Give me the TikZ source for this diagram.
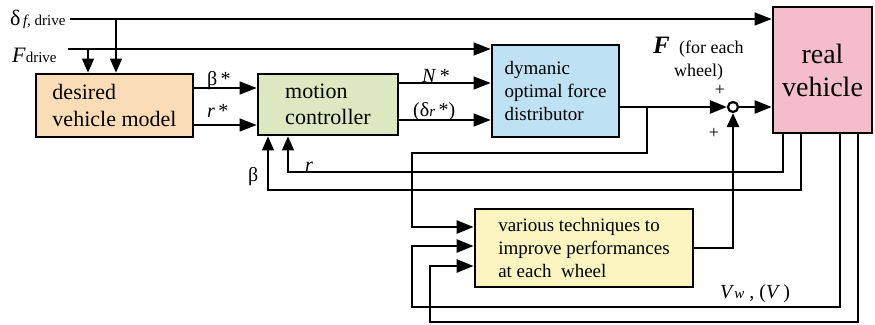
\documentclass[tikz,border=0pt]{standalone}
\usepackage{fontspec}
\setmainfont{Liberation Serif}
\usetikzlibrary{arrows.meta}
\definecolor{cdes}{RGB}{250,221,182}
\definecolor{cmot}{RGB}{221,232,192}
\definecolor{cdist}{RGB}{190,225,243}
\definecolor{creal}{RGB}{245,189,203}
\definecolor{ctech}{RGB}{250,245,192}
\newcommand\fszA{\fontsize{22}{26.4}\selectfont}
\newcommand\fszB{\fontsize{20}{24}\selectfont}
\newcommand\fszC{\fontsize{15}{18}\selectfont}
\newcommand\fszD{\fontsize{19}{22.6}\selectfont}
\newcommand\fszR{\fontsize{28}{33}\selectfont}
\newcommand\fszS{\fontsize{18}{23}\selectfont}
\begin{document}
\begin{tikzpicture}[x=1pt,y=-1pt,
  box/.style={draw, line width=2.8pt, inner sep=0pt, align=left},
  thin/.style={line width=1.2pt},
  thk/.style={line width=2.6pt},
  tip/.style={-{Triangle[length=17pt,width=13pt]}},
  tipv/.style={-{Triangle[length=14pt,width=12pt]}},
  lbl/.style={inner sep=0pt, anchor=base west}]
\useasboundingbox (0,0) rectangle (875,324);

% boxes
\node[box, fill=cdes, minimum width=157pt, minimum height=63pt, font=\fszA] (des) at (114.5,105.5) {desired\\vehicle model};
\node[box, fill=cmot, minimum width=140pt, minimum height=61pt, font=\fszA] (mot) at (328,104.5) {motion\\controller};
\node[box, fill=cdist, minimum width=127pt, minimum height=92pt, font=\fszD] (dist) at (555.5,91) {dymanic\\optimal force\\distributor};
\node[box, fill=creal, minimum width=99pt, minimum height=126pt, align=center, font=\fszR] (real) at (822.5,70) {real\\vehicle};
\node[box, fill=ctech, minimum width=218pt, minimum height=78pt, font=\fszD] (tech) at (584,248) {various techniques to\\improve performances\\at each\ \ wheel};
\node[draw, circle, line width=2.2pt, minimum size=10pt, inner sep=0pt, fill=white] (sum) at (733,107) {};

% labels
\node[lbl] (ldelta) at (10,25) {\fszA δ\fszC\,\textit{f,} drive};
\node[lbl] (lfd) at (12,62) {\fszA\textit{F}\fszC drive};
\node[lbl] (lbs) at (207,85) {\fszB β\,*};
\node[lbl] (lrs) at (207,117) {\fszB\textit{r}\,*};
\node[lbl] (lns) at (422,82) {\fszB\textit{N}\,*};
\node[lbl] (lds) at (413,116) {\fszB(δ{\fszC\textit{r}}\,*)};
\node[lbl] (lr) at (305,171) {\fszB\textit{r}};
\node[lbl] (lb) at (248,181) {\fszB β};
\node[lbl] (lF) at (653,53) {\fontsize{25}{30}\selectfont\bfseries\itshape F};
\node[lbl] (lfe) at (679,53) {\fszS (for each};
\node[lbl] (lwh) at (674,76) {\fszS wheel)};
\node[inner sep=0pt, font=\fszS] (p1) at (720,90) {+};
\node[inner sep=0pt, font=\fszS] (p2) at (714,133) {+};
\node[lbl] (lv) at (720,298) {\fszB\textit{V}{\fszC\textit{w}}\ , (\textit{V}\,)};

% inputs
\coordinate (dS) at (70,19);
\coordinate (dB) at (116,19);
\coordinate (fS) at (68,49);
\coordinate (fB) at (88,49);
\draw[thin,tip] (dS) -- (dS -| real.west);
\draw[thin,tipv] (dB) -- (dB |- des.north);
\draw[thin,tip] (fS) -- (fS -| dist.west);
\draw[thin,tipv] (fB) -- (fB |- des.north);

% forward signals
\coordinate (yb) at (0,88);
\coordinate (yr) at (0,125);
\coordinate (yn) at (0,83);
\coordinate (yd) at (0,120);
\draw[thin,tip] (des.east |- yb) -- (mot.west |- yb);
\draw[thin,tip] (des.east |- yr) -- (mot.west |- yr);
\draw[thin,tip] (mot.east |- yn) -- (dist.west |- yn);
\draw[thin,tip] (mot.east |- yd) -- (dist.west |- yd);

% force output
\coordinate (br) at (647,107);
\coordinate (c1) at (412,153);
\coordinate (yt1) at (0,227);
\draw[thk,tip] (dist.east |- sum) -- (sum.west);
\draw[thk,tip] (sum.east) -- (sum.east -| real.west);
\draw[thk,tip] (br) |- (c1) |- (tech.west |- yt1);
\draw[thk,tipv] (tech.east) -| (sum.south);

% feedback thin
\coordinate (f1) at (783,172);
\coordinate (m1) at (288,172);
\coordinate (f2) at (801,190);
\coordinate (m2) at (268,190);
\draw[thin,tipv] (real.south -| f1) -- (f1) -- (m1) -- (m1 |- mot.south);
\draw[thin,tipv] (real.south -| f2) -- (f2) -- (m2) -- (m2 |- mot.south);

% feedback thick
\coordinate (g1) at (840,307);
\coordinate (h1) at (412,307);
\coordinate (yt2) at (0,246);
\coordinate (g2) at (858,322);
\coordinate (h2) at (430,322);
\coordinate (yt3) at (0,266);
\draw[thk,tip] (real.south -| g1) -- (g1) -- (h1) |- (tech.west |- yt2);
\draw[thk,tip] (real.south -| g2) -- (g2) -- (h2) |- (tech.west |- yt3);
\end{tikzpicture}
\end{document}
